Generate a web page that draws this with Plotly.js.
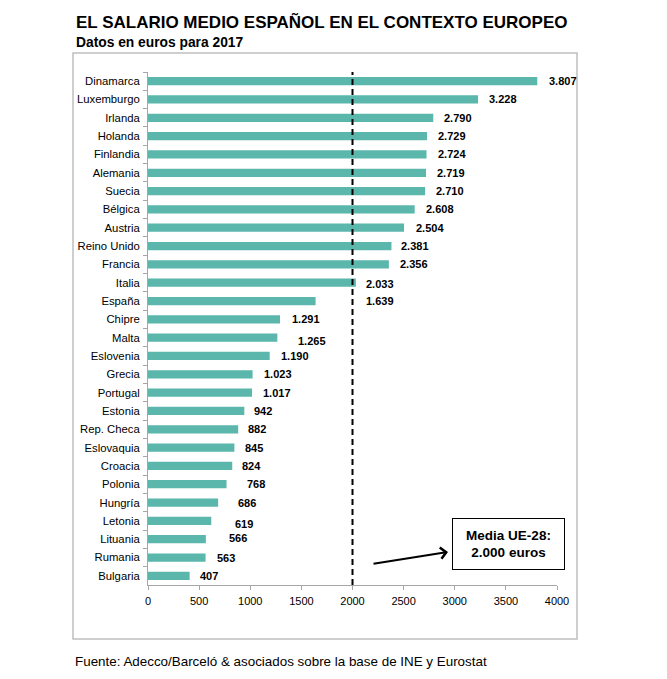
<!DOCTYPE html>
<html>
<head>
<meta charset="utf-8">
<script src="https://cdn.plot.ly/plotly-3.0.1.min.js"></script>
<style>
  html, body { margin: 0; padding: 0; background: #fff; }
  #chart { width: 667px; height: 679px; }
</style>
</head>
<body>
<div id="chart"></div>
<script>
// ---- Data ----
const paises = ["Dinamarca", "Luxemburgo", "Irlanda", "Holanda", "Finlandia", "Alemania", "Suecia",
  "Bélgica", "Austria", "Reino Unido", "Francia", "Italia", "España", "Chipre", "Malta", "Eslovenia",
  "Grecia", "Portugal", "Estonia", "Rep. Checa", "Eslovaquia", "Croacia", "Polonia", "Hungría",
  "Letonia", "Lituania", "Rumania", "Bulgaria"];
const salarios = [3807, 3228, 2790, 2729, 2724, 2719, 2710, 2608, 2504, 2381, 2356, 2033, 1639,
  1291, 1265, 1190, 1023, 1017, 942, 882, 845, 824, 768, 686, 619, 566, 563, 407];
const etiquetas = ["3.807", "3.228", "2.790", "2.729", "2.724", "2.719", "2.710", "2.608", "2.504",
  "2.381", "2.356", "2.033", "1.639", "1.291", "1.265", "1.190", "1.023", "1.017", "942", "882",
  "845", "824", "768", "686", "619", "566", "563", "407"];
const mediaUE = 2000;
const xTicks = [0, 500, 1000, 1500, 2000, 2500, 3000, 3500, 4000];

// label placement tweaks (pixels), as in the original layout
const labelDX = [10, 9, 9, 9, 9, 9, 9, 9, 10, 8, 9, 8, 48, 10, 19, 9, 9, 9, 8, 8, 9, 8, 18, 18, 22, 21, 9, 8];
const labelDY = [0, 0, 0, 0, 0, 0, 0, 0, 0, 0, 0, -1, 0, 0, -3, 0, 0, 0, 0, 0, 0, 0, 0, 0, -3, 1, 0, 0];

const FONT = "Liberation Sans, Arial, sans-serif";

// plot area in pixels: x 148..557, y 72..585
const L = 148, R = 557, T = 72, B = 585, W = 667, H = 679;
const px = v => (v - L) / (R - L);
const py = v => (B - v) / (B - T);

const annotations = salarios.map((v, i) => ({
  x: v, y: paises[i], xref: "x", yref: "y",
  text: etiquetas[i], showarrow: false,
  xanchor: "left", yanchor: "middle",
  xshift: labelDX[i], yshift: labelDY[i],
  font: { family: FONT, size: 11, color: "#000", weight: "bold" }
}));

// Title, subtitle, footer
annotations.push({
  xref: "paper", yref: "paper", x: px(74), y: py(22), xanchor: "left", yanchor: "middle",
  text: "<b>EL SALARIO MEDIO ESPAÑOL EN EL CONTEXTO EUROPEO</b>", showarrow: false,
  font: { family: FONT, size: 17, color: "#000" }
});
annotations.push({
  xref: "paper", yref: "paper", x: px(74), y: py(43), xanchor: "left", yanchor: "middle",
  text: "<b>Datos en euros para 2017</b>", showarrow: false,
  font: { family: FONT, size: 13.8, color: "#000" }
});
annotations.push({
  xref: "paper", yref: "paper", x: px(73), y: py(661), xanchor: "left", yanchor: "middle",
  text: "Fuente: Adecco/Barceló &amp; asociados sobre la base de INE y Eurostat", showarrow: false,
  font: { family: FONT, size: 13.4, color: "#000" }
});
// Media box
annotations.push({
  xref: "paper", yref: "paper", x: px(508), y: py(543.5), xanchor: "center", yanchor: "middle",
  text: "<b>Media UE-28:<br>2.000 euros</b>", showarrow: false,
  width: 109, height: 48, bordercolor: "#000", borderwidth: 1, bgcolor: "#fff",
  font: { family: FONT, size: 13.5, color: "#000" }
});
// Arrow
annotations.push({
  xref: "paper", yref: "paper", x: px(448), y: py(552),
  axref: "pixel", ayref: "pixel", ax: -76, ay: 12,
  text: "", showarrow: true, arrowhead: 4, arrowsize: 1.1, arrowwidth: 2, arrowcolor: "#000"
});

const shapes = [
  // outer frame
  { type: "rect", xref: "paper", yref: "paper", x0: px(73), x1: px(577), y0: py(639), y1: py(53),
    line: { color: "#bfbfbf", width: 1.5 }, fillcolor: "rgba(0,0,0,0)", layer: "below" },
  // mean line
  { type: "line", xref: "x", yref: "paper", x0: mediaUE, x1: mediaUE, y0: 0, y1: 1,
    line: { color: "#000", width: 2, dash: "6px,4px" } }
];

const trace = {
  type: "bar", orientation: "h",
  x: salarios, y: paises,
  marker: { color: "#5bb7ac" },
  hoverinfo: "none"
};

const layout = {
  width: W, height: H,
  margin: { l: L, r: W - R, t: T, b: H - B, pad: 0 },
  paper_bgcolor: "#fff", plot_bgcolor: "rgba(0,0,0,0)",
  showlegend: false,
  bargap: 0.55,
  font: { family: FONT, size: 11, color: "#000" },
  xaxis: {
    range: [0, 4000], tickvals: xTicks, ticktext: xTicks.map(String),
    showgrid: false, zeroline: false,
    showline: true, linecolor: "#a6a6a6", linewidth: 1,
    ticks: "outside", ticklen: 4, tickcolor: "#a6a6a6",
    ticklabelstandoff: 2,
    tickfont: { family: FONT, size: 11, color: "#000" }
  },
  yaxis: {
    type: "category", categoryorder: "array", categoryarray: paises,
    range: [27.5, -0.5],
    showgrid: false, zeroline: false,
    showline: true, linecolor: "#a6a6a6", linewidth: 1,
    ticks: "outside", ticklen: 4, tickcolor: "#a6a6a6", tickson: "boundaries",
    ticklabelstandoff: 5,
    tickfont: { family: FONT, size: 11.3, color: "#000" }
  },
  annotations: annotations,
  shapes: shapes
};

Plotly.newPlot("chart", [trace], layout, { displayModeBar: false, staticPlot: true });
</script>
</body>
</html>
